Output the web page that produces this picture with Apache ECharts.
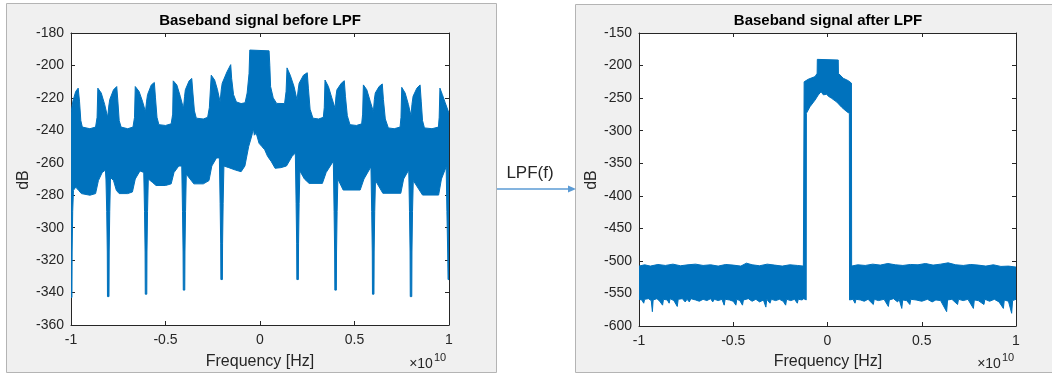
<!DOCTYPE html>
<html>
<head>
<meta charset="utf-8">
<script src="https://cdn.jsdelivr.net/npm/echarts@6/dist/echarts.min.js"></script>
<style>
  html, body { margin: 0; padding: 0; background: #fff; }
  #main { width: 1052px; height: 376px; }
</style>
</head>
<body>
<div id="main"></div>
<script>
// frequency in units of 1e10 Hz, level in dB
// before LPF: upper and lower edge of the dense spectrum band
var beforeUpper = [
  [-1.000,-229],[-0.990,-222],[-0.975,-216],[-0.962,-214],[-0.955,-222],[-0.948,-234],[-0.940,-238],[-0.900,-239],
  [-0.870,-238],[-0.862,-232],[-0.858,-214],[-0.840,-217],[-0.822,-224],[-0.806,-232],[-0.800,-225],[-0.795,-221],
  [-0.775,-215],[-0.758,-213],[-0.752,-222],[-0.745,-234],[-0.735,-238],[-0.700,-239],[-0.672,-238],[-0.664,-232],
  [-0.660,-213],[-0.640,-216],[-0.622,-222],[-0.606,-228.5],[-0.600,-222],[-0.595,-218],[-0.575,-212],[-0.559,-210.5],
  [-0.553,-220],[-0.545,-232],[-0.535,-236.5],[-0.500,-237],[-0.470,-236],[-0.462,-230],[-0.459,-209.5],[-0.440,-212],
  [-0.422,-219],[-0.405,-226.5],[-0.399,-219],[-0.395,-215],[-0.375,-209.5],[-0.361,-208],[-0.355,-217],[-0.347,-228],
  [-0.337,-232.5],[-0.300,-233],[-0.277,-232],[-0.268,-226],[-0.258,-206],[-0.240,-209],[-0.225,-215],[-0.211,-222.5],
  [-0.205,-215],[-0.200,-211],[-0.175,-204],[-0.155,-199.5],[-0.150,-208],[-0.140,-218],[-0.125,-222.5],[-0.100,-223.5],
  [-0.079,-223],[-0.068,-217],[-0.058,-205],[-0.054,-190.5],[0.048,-191],[0.052,-200],[0.056,-213],[0.070,-220],
  [0.088,-223.4],[0.130,-223.5],[0.138,-216],[0.143,-201.5],[0.160,-206],[0.180,-213],[0.196,-221.3],[0.202,-215],
  [0.207,-211],[0.230,-206],[0.250,-204.5],[0.256,-214],[0.265,-227],[0.280,-232.5],[0.310,-233],[0.335,-232],
  [0.340,-226],[0.344,-209],[0.362,-213],[0.380,-220],[0.397,-226.4],[0.402,-219],[0.407,-215],[0.430,-211],
  [0.446,-209.4],[0.452,-219],[0.462,-231],[0.476,-236.5],[0.510,-237],[0.538,-236],[0.543,-230],[0.547,-212],
  [0.565,-215],[0.583,-222],[0.600,-228.5],[0.605,-221],[0.610,-217],[0.630,-213],[0.647,-211.4],[0.653,-221],
  [0.663,-233],[0.679,-238.5],[0.710,-239],[0.741,-238],[0.746,-232],[0.750,-213.5],[0.768,-217],[0.785,-224],
  [0.799,-231],[0.804,-224],[0.810,-219],[0.830,-214],[0.847,-212],[0.853,-222],[0.860,-234],[0.870,-238.5],
  [0.910,-239],[0.944,-238],[0.948,-232],[0.952,-214],[0.965,-218],[0.980,-223],[1.000,-229.5]
];
var beforeLower = [
  [-1.000,-343],[-0.995,-343],[-0.994,-315],[-0.991,-290],[-0.987,-277],[-0.975,-275],[-0.960,-277],[-0.945,-279],
  [-0.900,-280],[-0.870,-279],[-0.855,-271],[-0.835,-266],[-0.818,-264.5],
  [-0.815,-270],[-0.811,-290],[-0.808,-315],[-0.807,-342.5],[-0.799,-342.5],[-0.798,-315],[-0.795,-290],[-0.791,-269],
  [-0.775,-271],[-0.760,-277],[-0.745,-279],[-0.700,-279],[-0.675,-278],[-0.660,-270],[-0.635,-265],
  [-0.615,-266],[-0.611,-290],[-0.608,-315],[-0.607,-341],[-0.599,-341],[-0.598,-315],[-0.595,-290],[-0.591,-270],
  [-0.570,-272],[-0.550,-274],[-0.500,-274],[-0.470,-273],[-0.455,-266],[-0.430,-262],
  [-0.414,-262],[-0.410,-290],[-0.407,-315],[-0.406,-338.5],[-0.398,-338.5],[-0.397,-315],[-0.394,-290],[-0.390,-267],
  [-0.370,-270],[-0.350,-273],[-0.300,-273],[-0.270,-271],[-0.255,-262],[-0.230,-257],
  [-0.215,-257],[-0.211,-285],[-0.208,-310],[-0.207,-332],[-0.199,-332],[-0.198,-310],[-0.195,-285],[-0.191,-262],
  [-0.165,-263],[-0.130,-264.5],[-0.100,-265.5],[-0.080,-262],[-0.060,-250],[-0.050,-246],[-0.040,-241.8],[-0.035,-238.8],
  [-0.030,-243],[-0.020,-241.8],[-0.005,-248],[0.010,-250],[0.025,-252],[0.040,-256],[0.060,-259.3],[0.080,-263.4],
  [0.110,-263],[0.140,-262],[0.170,-256],
  [0.187,-254],[0.191,-285],[0.194,-310],[0.195,-332],[0.203,-332],[0.204,-310],[0.207,-285],[0.211,-265],
  [0.235,-270],[0.260,-272.7],[0.330,-272.7],[0.350,-266],
  [0.388,-259],[0.392,-290],[0.395,-315],[0.396,-338.5],[0.404,-338.5],[0.405,-315],[0.408,-290],[0.412,-270],
  [0.440,-276.8],[0.530,-276.8],[0.550,-270],
  [0.587,-262.5],[0.591,-290],[0.594,-315],[0.595,-341],[0.603,-341],[0.604,-315],[0.607,-290],[0.611,-271],
  [0.650,-278.8],[0.745,-278.8],[0.760,-270],
  [0.787,-264.5],[0.791,-290],[0.794,-315],[0.795,-342.5],[0.803,-342.5],[0.804,-315],[0.807,-290],[0.811,-271],
  [0.860,-279.9],[0.945,-279.9],[0.960,-270],
  [0.985,-262.5],[0.989,-290],[0.993,-315],[0.995,-332],[1.000,-332]
];

// after LPF
var afterUpper = [
  [-1.000,-508],[-0.970,-506],[-0.940,-508],[-0.900,-505.5],[-0.860,-507],[-0.820,-505],[-0.780,-507.5],[-0.740,-506],
  [-0.700,-505],[-0.660,-507],[-0.620,-506],[-0.580,-508],[-0.540,-505.5],[-0.500,-506.5],[-0.460,-508],[-0.430,-503.5],
  [-0.400,-506],[-0.360,-507.5],[-0.320,-505],[-0.280,-506.5],[-0.240,-508],[-0.200,-506],[-0.160,-507],[-0.128,-508],
  [-0.124,-225],[-0.102,-221],[-0.066,-217],[-0.055,-212],[-0.054,-190.5],[0.057,-191.5],[0.058,-212],[0.084,-219.6],
  [0.110,-223.2],[0.127,-227],[0.128,-508],[0.160,-506],[0.200,-507],[0.240,-505],[0.280,-506.5],[0.320,-504],
  [0.360,-506],[0.400,-507],[0.440,-505.5],[0.480,-506],[0.520,-504],[0.560,-506.5],[0.600,-505],[0.640,-503],
  [0.680,-506],[0.720,-507],[0.760,-505.5],[0.800,-506.5],[0.840,-508],[0.880,-506],[0.920,-508.5],[0.960,-508],
  [1.000,-509.5]
];
var afterLower = [
  [-1.000,-559],[-0.985,-560],[-0.975,-565],[-0.970,-559],[-0.950,-558],[-0.935,-561],[-0.929,-578],[-0.925,-560],
  [-0.905,-558],[-0.890,-562],[-0.875,-568],[-0.870,-559],[-0.850,-560],[-0.840,-565],[-0.835,-558],[-0.815,-561],
  [-0.797,-570],[-0.792,-559],[-0.770,-558],[-0.755,-563],[-0.745,-559],[-0.733,-563],[-0.725,-558],[-0.700,-560],
  [-0.680,-562],[-0.660,-559],[-0.640,-561],[-0.620,-558],[-0.609,-563],[-0.600,-559],[-0.580,-561],[-0.560,-559],
  [-0.548,-568],[-0.543,-559],[-0.520,-560],[-0.500,-562],[-0.486,-568],[-0.481,-559],[-0.465,-561],[-0.451,-568],
  [-0.446,-560],[-0.420,-558],[-0.400,-562],[-0.380,-559],[-0.360,-563],[-0.340,-560],[-0.327,-571],[-0.322,-559],
  [-0.305,-565],[-0.298,-559],[-0.275,-561],[-0.255,-559],[-0.235,-562],[-0.222,-568],[-0.217,-559],[-0.195,-561],
  [-0.175,-559],[-0.160,-565],[-0.155,-559],[-0.135,-560],[-0.126,-558],[-0.113,-560],
  // inside of the pass band
  [-0.112,-273.4],[-0.093,-263.2],[-0.066,-253],[-0.049,-245.2],[-0.034,-240.1],[-0.022,-245],[-0.004,-244],[0.004,-247],
  [0.022,-250.4],[0.049,-256],[0.075,-264],[0.102,-270.8],[0.116,-273.4],
  [0.117,-560],[0.135,-559],[0.146,-565],[0.151,-559],[0.175,-560],[0.195,-562],[0.215,-559],[0.243,-567],
  [0.248,-559],[0.270,-561],[0.300,-559],[0.323,-570],[0.328,-560],[0.350,-558],[0.372,-563],[0.380,-559],
  [0.394,-573],[0.399,-560],[0.420,-561],[0.437,-567],[0.442,-559],[0.470,-560],[0.500,-562],[0.530,-559],
  [0.555,-563],[0.575,-560],[0.600,-561],[0.632,-578],[0.637,-560],[0.660,-559],[0.690,-567],[0.695,-559],
  [0.720,-561],[0.745,-559],[0.774,-573],[0.779,-560],[0.800,-561],[0.830,-567],[0.835,-559],[0.860,-562],
  [0.885,-559],[0.910,-563],[0.933,-573],[0.938,-560],[0.960,-562],[0.977,-580.5],[0.982,-561],[1.000,-559]
];

var titles = ['Baseband signal before LPF', 'Baseband signal after LPF'];
var yRanges = [[-360, -180, 20], [-600, -150, 50]];

var BLUE = '#0072bd';
var AXIS = '#262626';
var FONT = '"Liberation Sans", Arial, sans-serif';

var chart = echarts.init(document.getElementById('main'));

// polygon: upper edge left->right, then lower edge right->left
function band(upper, lower) {
  return function (params, api) {
    var pts = [];
    for (var i = 0; i < upper.length; i++) pts.push(api.coord(upper[i]));
    for (var j = lower.length - 1; j >= 0; j--) pts.push(api.coord(lower[j]));
    return {
      type: 'polygon',
      shape: { points: pts },
      style: { fill: BLUE, stroke: BLUE, lineWidth: 1 }
    };
  };
}

var grids = [
  { left: 71, top: 33, width: 378, height: 292 },
  { left: 639, top: 33, width: 377, height: 293 }
];

var xAxes = [], yAxes = [];
grids.forEach(function (g, i) {
  var tick = { show: true, inside: true, length: 4, lineStyle: { color: AXIS } };
  xAxes.push({
    gridIndex: i, type: 'value', min: -1, max: 1, interval: 0.5,
    axisLine: { show: true, onZero: false, lineStyle: { color: AXIS } },
    axisTick: tick, splitLine: { show: false },
    axisLabel: { color: AXIS, fontSize: 14, fontFamily: FONT, margin: 8 }
  });
  xAxes.push({
    gridIndex: i, type: 'value', position: 'top', min: -1, max: 1, interval: 0.5,
    axisLine: { show: true, onZero: false, lineStyle: { color: AXIS } },
    axisTick: tick, axisLabel: { show: false }, splitLine: { show: false }
  });
  var r = yRanges[i];
  yAxes.push({
    gridIndex: i, type: 'value', min: r[0], max: r[1], interval: r[2],
    axisLine: { show: true, onZero: false, lineStyle: { color: AXIS } },
    axisTick: tick, splitLine: { show: false },
    axisLabel: { color: AXIS, fontSize: 14, fontFamily: FONT, margin: 7 }
  });
  yAxes.push({
    gridIndex: i, type: 'value', position: 'right', min: r[0], max: r[1], interval: r[2],
    axisLine: { show: true, onZero: false, lineStyle: { color: AXIS } },
    axisTick: tick, axisLabel: { show: false }, splitLine: { show: false }
  });
});

function txt(x, y, s, font, extra) {
  var st = { text: s, font: font, fill: AXIS, textAlign: 'center', textVerticalAlign: 'middle' };
  var el = { type: 'text', x: x, y: y, style: st, z: 10 };
  if (extra) for (var k in extra) el[k] = extra[k];
  return el;
}

var graphics = [
  // matlab figure backgrounds
  { type: 'rect', shape: { x: 6.5, y: 3.5, width: 490, height: 369 },
    style: { fill: '#f0f0f0', stroke: '#b4b4b4', lineWidth: 1 }, z: -10 },
  { type: 'rect', shape: { x: 575.5, y: 4.5, width: 490, height: 368 },
    style: { fill: '#f0f0f0', stroke: '#b4b4b4', lineWidth: 1 }, z: -10 },
  // arrow between the figures
  { type: 'line', shape: { x1: 497, y1: 189, x2: 569, y2: 189 },
    style: { stroke: '#5b9bd5', lineWidth: 1.5 }, z: 10 },
  { type: 'polygon', shape: { points: [[576, 189], [568, 185.5], [568, 192.5]] },
    style: { fill: '#5b9bd5' }, z: 10 },
  txt(530, 173, 'LPF(f)', '17px ' + FONT),
  // titles
  txt(260, 21, titles[0], 'bold 15px ' + FONT, { style: { text: titles[0], font: 'bold 15px ' + FONT, fill: '#000', textAlign: 'center', textVerticalAlign: 'middle' } }),
  txt(828, 21, titles[1], 'bold 15px ' + FONT, { style: { text: titles[1], font: 'bold 15px ' + FONT, fill: '#000', textAlign: 'center', textVerticalAlign: 'middle' } }),
  // axis names
  txt(260, 362, 'Frequency [Hz]', '16px ' + FONT),
  txt(828, 362, 'Frequency [Hz]', '16px ' + FONT),
  txt(24, 180, 'dB', '16px ' + FONT, { rotation: Math.PI / 2 }),
  txt(592, 180, 'dB', '16px ' + FONT, { rotation: Math.PI / 2 }),
  // x10^10 exponent labels
  txt(421, 364, '\u00d710', '14px ' + FONT),
  txt(440, 358, '10', '11px ' + FONT),
  txt(989, 364, '\u00d710', '14px ' + FONT),
  txt(1008, 358, '10', '11px ' + FONT)
];

chart.setOption({
  animation: false,
  backgroundColor: '#fff',
  grid: grids.map(function (g) {
    return Object.assign({ show: true, backgroundColor: '#fff', borderWidth: 0 }, g);
  }),
  xAxis: xAxes,
  yAxis: yAxes,
  graphic: graphics,
  series: [
    { type: 'custom', xAxisIndex: 0, yAxisIndex: 0, data: [[0, -270]], clip: true, silent: true,
      renderItem: band(beforeUpper, beforeLower) },
    { type: 'custom', xAxisIndex: 2, yAxisIndex: 2, data: [[0, -400]], clip: true, silent: true,
      renderItem: band(afterUpper, afterLower) }
  ]
});
</script>
</body>
</html>
